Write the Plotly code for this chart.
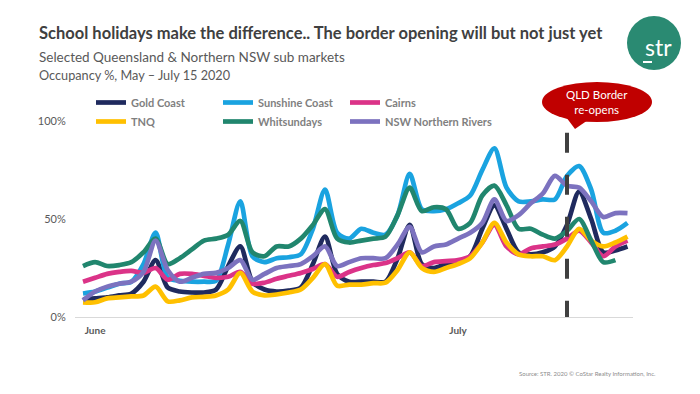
import pandas as pd
import plotly.graph_objects as go

# ---------------- data ----------------
dates = pd.date_range("2020-05-31", "2020-07-15", freq="D")

gold_coast = [9, 9.5, 10, 11, 12, 18, 29, 15, 13, 12.5, 12.5, 14, 26, 36, 18, 14, 13, 13.5, 15, 27, 41, 22, 18,
              18, 18, 18, 30, 47, 27, 25, 27, 28, 31, 45, 57, 45, 33, 32, 33, 36, 47, 64, 50, 33, 34, 36]
sunshine_coast = [12, 13, 15, 17, 18, 27, 43, 20, 18.5, 18, 18, 18.5, 37, 59, 31, 28, 30, 30.5, 32, 45, 65, 43, 40,
                  45, 43, 42, 52, 73, 55, 54, 55, 58, 62, 75, 86, 66, 59, 59, 60, 60, 72, 77, 65, 43, 44, 48]
cairns = [18, 20, 22, 23, 23.5, 22.5, 25, 19, 22, 22, 21, 20, 20.5, 23, 17, 17.5, 19.5, 21, 22.5, 24.5, 27, 20.5, 23,
          25, 26.5, 27.5, 30, 33, 26, 28, 28.5, 29, 31, 38, 47, 36, 32, 35, 36, 37, 40, 44, 38, 31, 36, 39]
tnq = [7.5, 7.5, 9.5, 10, 10.5, 11, 15.5, 8, 8.5, 10, 10.3, 11, 14, 22.5, 13, 11, 11.5, 12.5, 14, 20, 27, 16, 16.5,
       16.5, 17.3, 17.5, 24, 33, 25, 23, 25, 27, 30, 38, 48, 38, 32, 31, 31, 29, 36, 45, 39, 36, 38, 41]
whitsundays = [26, 28, 26, 26.5, 28, 33, 40, 27, 30, 34.5, 39, 40, 42, 49, 33, 31, 36, 36, 40, 47, 55, 40, 38,
               39, 40, 41, 52, 66, 54, 56, 55, 45, 48, 62, 67, 57, 45, 45, 42, 40, 44, 50, 39, 28, 29, None]
nsw_northern_rivers = [8.5, 13, 15.5, 17, 18, 23, 39, 24, 18, 20, 22, 22.5, 25, 29, 19, 22, 25, 26, 27, 31, 36, 26, 28,
                       30, 30, 30, 37, 46, 33, 36, 37, 40, 43, 48, 60, 49, 52, 58, 63, 72, 67, 66, 59, 51, 53, 53]

series_names = ["Gold Coast", "Sunshine Coast", "Cairns", "TNQ", "Whitsundays", "NSW Northern Rivers"]
series_values = [gold_coast, sunshine_coast, cairns, tnq, whitsundays, nsw_northern_rivers]
series_colors = ["#1F2A5E", "#1AA3E0", "#DB3388", "#FFC000", "#21866E", "#7C72BF"]
series_legend = ["legend", "legend2", "legend3", "legend", "legend2", "legend3"]

y_tick_values = [0, 50, 100]
y_tick_labels = ["0%", "50%", "100%"]
x_tick_values = ["2020-06-01", "2020-07-01"]
x_tick_labels = ["June", "July"]
border_open_date = "2020-07-10"

# ---------------- layout geometry (screen px; page body has an 8px margin) ----------------
W, H = 700, 394
OFF = 8
PLOT_L, PLOT_R, PLOT_T, PLOT_B = 75, 633, 100, 317   # on-screen plot area
L, R = PLOT_L - OFF, W - (PLOT_R - OFF)
T, B = PLOT_T - OFF, H - (PLOT_B - OFF)
PW, PH = W - L - R, H - T - B
FONT = "Lato"


def px(x):
    return (x - OFF - L) / PW


def py(y):
    return (H - B - (y - OFF)) / PH


fig = go.Figure()
for name, vals, col, lg in zip(series_names, series_values, series_colors, series_legend):
    fig.add_trace(go.Scatter(
        x=dates, y=vals, name=name, mode="lines",
        line=dict(color=col, width=4.7, shape="spline", smoothing=0.8),
        legend=lg, connectgaps=False,
    ))

legend_common = dict(orientation="v", xanchor="left", yanchor="top", bgcolor="rgba(0,0,0,0)",
                     font=dict(family=FONT, size=11, color="#7F7F7F", weight="bold"),
                     tracegroupgap=0, itemwidth=30, traceorder="normal")

fig.update_layout(
    width=W, height=H,
    margin=dict(l=L, r=R, t=T, b=B, autoexpand=False),
    paper_bgcolor="white", plot_bgcolor="white",
    showlegend=True,
    legend=dict(x=px(91), y=py(88), **legend_common),
    legend2=dict(x=px(218), y=py(88), **legend_common),
    legend3=dict(x=px(345), y=py(88), **legend_common),
    xaxis=dict(
        type="date",
        range=["2020-05-30 08:08", "2020-07-15 10:55"],
        tickvals=x_tick_values, ticktext=x_tick_labels,
        showgrid=False, zeroline=False,
        showline=True, linecolor="#D9D9D9", linewidth=1,
        ticks="outside", ticklen=4, tickcolor="rgba(0,0,0,0)",
        tickfont=dict(family=FONT, size=10, color="#595959", weight="bold"),
    ),
    yaxis=dict(
        range=[0, PH / 1.96],
        tickvals=y_tick_values, ticktext=y_tick_labels,
        showgrid=False, zeroline=False, showline=False,
        ticks="outside", ticklen=6, tickcolor="rgba(0,0,0,0)",
        tickfont=dict(family=FONT, size=11, color="#595959"),
    ),
)

# Border re-opening dashed line
fig.add_shape(type="line", xref="x", yref="y", x0=border_open_date, x1=border_open_date,
              y0=94, y1=-0.5, line=dict(color="#404040", width=4, dash="20px,22px"), layer="above")

# Callout bubble
fig.add_shape(type="path", xref="paper", yref="paper",
              path=f"M {px(566)} {py(117)} L {px(575)} {py(129)} L {px(588)} {py(120)} Z",
              fillcolor="#C00000", line=dict(width=0), layer="above")
fig.add_shape(type="circle", xref="paper", yref="paper",
              x0=px(542), x1=px(652), y0=py(122), y1=py(82),
              fillcolor="#C00000", line=dict(width=0), layer="above")
fig.add_annotation(xref="paper", yref="paper", x=px(597), y=py(102), text="QLD Border<br>re-opens",
                   showarrow=False, xanchor="center", yanchor="middle",
                   font=dict(family=FONT, size=11.5, color="white"))

# STR logo
fig.add_shape(type="circle", xref="paper", yref="paper",
              x0=px(627), x1=px(681), y0=py(70), y1=py(16),
              fillcolor="#2A8A72", line=dict(width=0), layer="above")
fig.add_annotation(xref="paper", yref="paper", x=px(658), y=py(47), text="str",
                   showarrow=False, xanchor="center", yanchor="middle",
                   font=dict(family=FONT, size=23, color="white"))
fig.add_shape(type="line", xref="paper", yref="paper", x0=px(643), x1=px(652), y0=py(62), y1=py(62),
              line=dict(color="white", width=2), layer="above")

# Titles
fig.add_annotation(xref="paper", yref="paper", x=px(37), y=py(33), xanchor="left", yanchor="middle",
                   text="School holidays make the difference.. The border opening will but not just yet",
                   showarrow=False, font=dict(family=FONT, size=16.5, color="#404040", weight="bold"))
fig.add_annotation(xref="paper", yref="paper", x=px(37), y=py(57), xanchor="left", yanchor="middle",
                   text="Selected Queensland &amp; Northern NSW sub markets",
                   showarrow=False, font=dict(family=FONT, size=13.5, color="#595959"))
fig.add_annotation(xref="paper", yref="paper", x=px(37), y=py(75), xanchor="left", yanchor="middle",
                   text="Occupancy %, May – July 15 2020",
                   showarrow=False, font=dict(family=FONT, size=12.7, color="#595959"))
fig.add_annotation(xref="paper", yref="paper", x=px(658), y=py(373), xanchor="right", yanchor="middle",
                   text="Source: STR. 2020 © CoStar Realty Information, Inc.",
                   showarrow=False, font=dict(family=FONT, size=6, color="#8C8C8C"))

fig.write_html("out.html")
